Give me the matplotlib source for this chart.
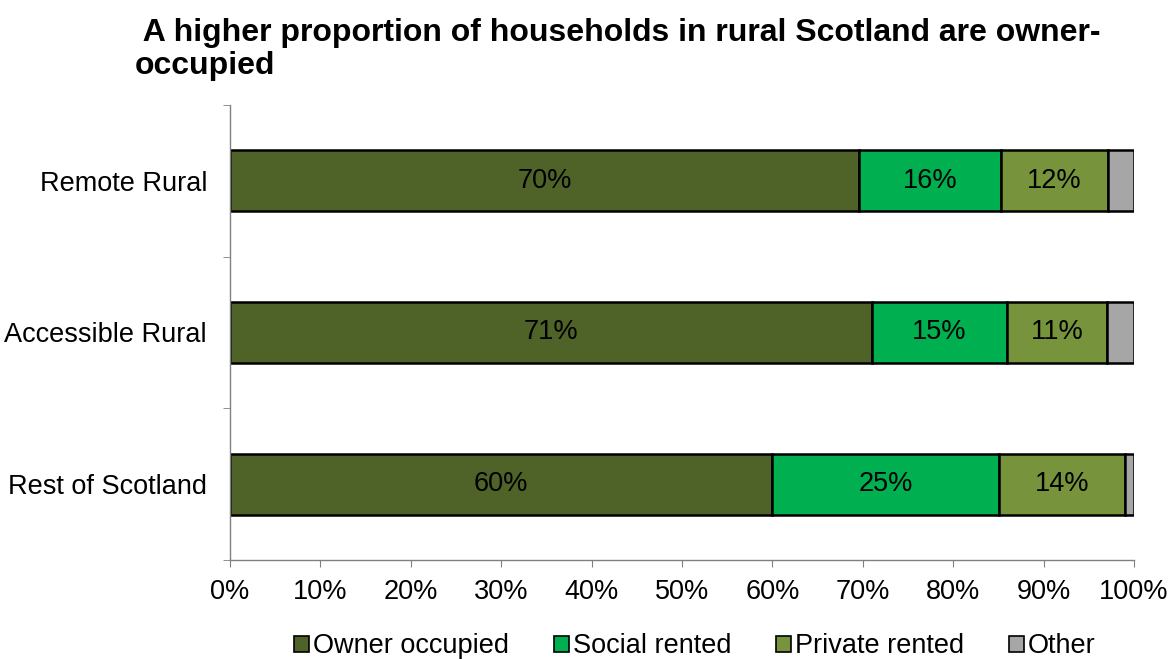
import numpy as np
import matplotlib.pyplot as plt
from matplotlib.ticker import FixedLocator, PercentFormatter

plt.rcParams['font.family'] = ['Liberation Sans', 'DejaVu Sans']

# Tenure split by area, percent of households
areas = ['Rest of Scotland', 'Accessible Rural', 'Remote Rural']
owner_occupied = [60.0, 71.0, 69.6]
social_rented = [25.1, 15.0, 15.7]
private_rented = [13.9, 11.0, 11.8]
other = [1.0, 3.0, 2.9]

series = [
    ('Owner occupied', owner_occupied, '#4F6228', True),
    ('Social rented', social_rented, '#00B050', True),
    ('Private rented', private_rented, '#77933C', True),
    ('Other', other, '#A6A6A6', False),
]

fs = 19.5

fig = plt.figure(figsize=(11.74, 6.59), dpi=100)
ax = fig.add_axes([0.1959, 0.1502, 0.7700, 0.6905])

y = np.arange(len(areas))
left = np.zeros(len(areas))
for name, vals, col, show in series:
    vals = np.array(vals)
    ax.barh(y, vals, left=left, height=0.40, color=col, edgecolor='black',
            linewidth=1.8, label=name)
    if show:
        for yi, l, v in zip(y, left, vals):
            ax.text(l + v / 2, yi, f'{round(v)}%', ha='center', va='center',
                    fontsize=fs, color='black')
    left += vals

ax.set_xlim(0, 100)
ax.set_ylim(-0.5, 2.5)
ax.set_xticks(np.arange(0, 101, 10))
ax.xaxis.set_major_formatter(PercentFormatter(decimals=0))
ax.set_yticks(y)
ax.set_yticklabels(areas)
ax.yaxis.set_minor_locator(FixedLocator([-0.5, 0.5, 1.5, 2.5]))
ax.tick_params(axis='y', which='major', length=0, pad=16.5, labelsize=fs)
ax.tick_params(axis='y', which='minor', length=5, color='#808080')
ax.tick_params(axis='x', length=5, color='#808080', labelsize=fs, pad=9)

for s in ['top', 'right']:
    ax.spines[s].set_visible(False)
for s in ['left', 'bottom']:
    ax.spines[s].set_color('#808080')
    ax.spines[s].set_linewidth(1.0)

fig.text(0.115, 0.972, ' A higher proportion of households in rural Scotland are owner-\noccupied',
         ha='left', va='top', fontsize=23, fontweight='bold', linespacing=1.12)

leg = fig.legend(loc='center', bbox_to_anchor=(0.592, 0.019), ncol=4, frameon=False,
                 fontsize=fs, handlelength=0.55, handleheight=0.55, handletextpad=0.15,
                 columnspacing=1.65, borderpad=0)
for h in leg.legend_handles:
    h.set_linewidth(1.2)

fig.savefig('out.png', dpi=100)
